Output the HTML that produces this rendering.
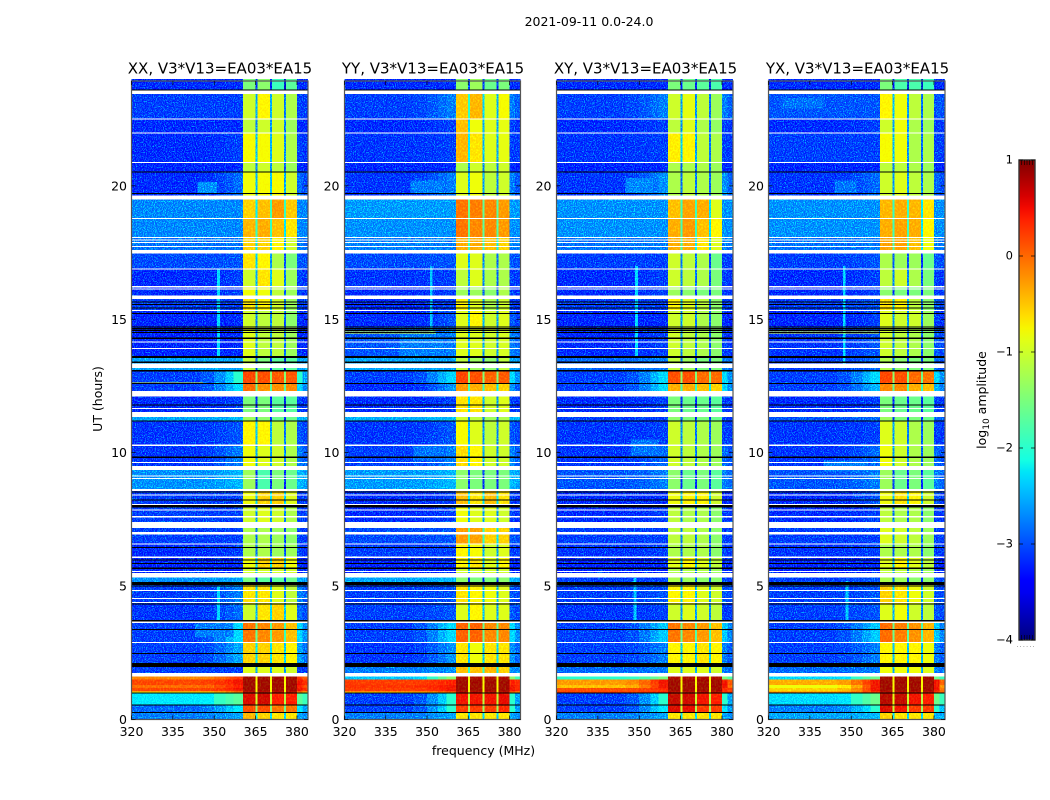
<!DOCTYPE html>
<html>
<head>
<meta charset="utf-8">
<title>2021-09-11 amplitude waterfall</title>
<style>
html,body{margin:0;padding:0;background:#fff;}
svg{display:block;}
text{font-family:"DejaVu Sans","Liberation Sans",sans-serif;fill:#000;}
</style>
</head>
<body>
<svg id="chart" xmlns="http://www.w3.org/2000/svg" width="1050" height="800" viewBox="0 0 1050 800">
  <defs>
    <filter id="speckle" x="0" y="0" width="100%" height="100%" color-interpolation-filters="sRGB">
      <feTurbulence type="fractalNoise" baseFrequency="0.9 0.8" numOctaves="2" seed="4" result="n"/>
      <feColorMatrix in="n" type="matrix" values="0 0 0 0 0  2.2 0 0 0 -1  0 0 0 0 0  0 0 0 0 1" result="g"/>
      <feComposite in="SourceGraphic" in2="g" operator="arithmetic" k1="0" k2="1" k3="1" k4="0" result="mix"/>
      <feComposite in="mix" in2="SourceGraphic" operator="in"/>
    </filter>
    <filter id="speckle-soft" x="0" y="0" width="100%" height="100%" color-interpolation-filters="sRGB">
      <feTurbulence type="fractalNoise" baseFrequency="0.6 0.5" numOctaves="2" seed="9" result="n"/>
      <feColorMatrix in="n" type="matrix" values="0 0 0 0 0  .5 0 0 0 -.2  0 0 0 0 0  0 0 0 0 1" result="g"/>
      <feComposite in="SourceGraphic" in2="g" operator="arithmetic" k1="0" k2="1" k3="1" k4="0" result="mix"/>
      <feComposite in="mix" in2="SourceGraphic" operator="in"/>
    </filter>
    <linearGradient id="jet-gradient" x1="0" y1="1" x2="0" y2="0"></linearGradient>
  </defs>
  <text x="589" y="26" font-size="12.5" text-anchor="middle">2021-09-11 0.0-24.0</text>
  <text x="483.5" y="755" font-size="12.5" text-anchor="middle">frequency (MHz)</text>
  <text x="0" y="0" font-size="12.5" text-anchor="middle" transform="translate(102,399) rotate(-90)">UT (hours)</text>
  <text x="0" y="0" font-size="12.5" text-anchor="middle" transform="translate(986,400) rotate(-90)">log<tspan font-size="9" dy="3">10</tspan><tspan dy="-3"> amplitude</tspan></text>
  <g id="panels"></g>
  <g id="colorbar"></g>
</svg>
<script>
// ---- Data ----
const xTicks = [320, 335, 350, 365, 380];
const yTicks = [0, 5, 10, 15, 20];
const cbTicks = [-4, -3, -2, -1, 0, 1];

// band boundaries in UT hours, top to bottom
const bandEdges = [24,23.5,22.5,21.98,20.88,20.52,19.6,18.78,18.06,17.5,16.88,16.2,15.85,15.33,14.7,13.59,13.07,12.6,12.2,11.45,11.18,10.28,9.45,8.58,8.0,7.3,6.57,6.08,5.67,5.4,5.1,4.33,3.65,2.88,2.05,1.65,1.5,1.3,1.18,1.05,0.98,0.55,0.27,0];

// each band: [background, near-window, window1, window2, window3, window4] in log10 amplitude
const xxBands = [
[-3.1,-3.1,-1.5,-1.4,-1.9,-1.7],[-3.0,-3.0,-1.0,-.7,-1.0,-1.2],[-3.1,-3.1,-1.1,-1.0,-1.0,-1.3],[-3.1,-3.0,-.75,-.75,-.9,-1.2],
[-3.2,-3.1,-1.1,-1.0,-1.1,-1.3],[-3.1,-2.8,-.8,-.75,-.75,-1.0],[-2.65,-2.65,-.5,-.4,-.2,-.45],[-2.65,-2.65,-.35,-.3,-.4,-.6],
[-2.75,-2.75,-.5,-.5,-.7,-1.0],[-2.95,-2.9,-.6,-.7,-1.2,-1.5],[-3.1,-3.0,-1,-.6,-.9,-1.3],[-3.1,-3.0,-.8,-.8,-1.1,-1.3],
[-3.0,-3.0,-.6,-.7,-1.0,-1.3],[-3.2,-3.1,-1,-1.1,-1.1,-1.4],[-3.2,-3.1,-.9,-1.1,-1.1,-1.3],[-2.5,-2.5,-1.1,-1.5,-1.7,-1.7],
[-3,-2,.25,.2,.15,.15],[-3,-2.2,.05,-.15,-.15,-.1],[-3.1,-3,-1.5,-1.5,-1.7,-1.7],[-2.5,-2.4,-1.3,-1.4,-1.6,-1.6],
[-3.05,-2.9,-.7,-.7,-1.1,-1.2],[-3.05,-2.7,-.8,-.9,-1,-1.2],[-2.6,-2.4,-1.3,-1.8,-1.5,-1.6],[-3,-3,-.8,-.5,-.5,-.9],
[-3,-3,-1,-.9,-1,-1.2],[-3,-3,-1.2,-1.2,-1.3,-1.4],[-3.1,-3,-1.2,-1.2,-1.3,-1.3],[-3.2,-3.1,-.8,-.5,-.5,-.8],
[-3.2,-3.1,-1,-1,-1,-1],[-2.6,-2.5,-1.5,-1.7,-1.7,-1.6],[-3,-2.7,-.6,-.6,-.9,-1.1],[-3.05,-2.8,-1,-.6,-.5,-.9],
[-3,-2.2,0,-.1,-.2,-.4],[-3,-2.5,-.5,-.5,-.6,-.7],[-3,-3,-.9,-.9,-.9,-1],
[-.1,.3,.85,.85,.85,.85],[.25,.5,.85,.85,.85,.85],[.05,.45,.85,.85,.85,.85],[.25,.5,.85,.85,.85,.85],[-.8,-.2,.7,.7,.7,.7],
[-2.1,-1.7,.6,.65,.45,.45],[-2.8,-2.1,.2,.2,0,0],[-2.7,-2.5,-.35,-.5,-.6,-.6]
];
const yyBands = [
[-3.1,-3.1,-1.4,-1.3,-1.6,-1.5],[-3.0,-2.7,-.45,-.35,-.9,-.75],[-3.1,-3.0,-.4,-.8,-.9,-.85],[-3.05,-3.0,-.35,-.6,-.9,-.85],
[-3.2,-3.1,-1.2,-1.0,-1.1,-1.0],[-3.05,-2.7,-.9,-.8,-1.1,-1.0],[-2.55,-2.55,0,-.05,-.1,-.2],[-2.6,-2.6,0,-.1,-.1,-.2],
[-2.7,-2.7,-.3,-.3,-.4,-.5],[-2.95,-2.9,-.9,-.9,-1.2,-1.2],[-3.05,-3.0,-1.1,-.9,-1.2,-1.2],[-3.1,-3.0,-1.3,-1.3,-1.4,-1.2],
[-3.1,-3.0,-.7,-.9,-1.2,-1.0],[-3.1,-2.9,-.9,-.7,-1.0,-.9],[-2.9,-2.7,-.9,-.9,-1.0,-.95],[-2.5,-2.5,-1.1,-1.3,-1.4,-1.1],
[-3,-2.2,.25,.2,.1,.15],[-3.1,-2.6,-.2,-.3,-.4,-.5],[-3.1,-3,-.6,-.6,-1,-.9],[-2.45,-2.4,-1,-1.1,-1.3,-1.2],
[-3.05,-2.9,-.75,-.9,-1.1,-1.0],[-3,-2.7,-.55,-.7,-1,-1],[-2.55,-2.4,-1.4,-1.5,-1.5,-1.5],[-3.1,-3,-.4,-.6,-.4,-.6],
[-3.1,-3,-.8,-.9,-.9,-1],[-2.95,-2.9,-.2,-.25,-.5,-.5],[-3,-3,-.7,-.75,-1,-.9],[-3.2,-3.1,-.7,-.6,-.9,-.7],
[-3.2,-3.1,-1,-1,-1,-1],[-2.5,-2.4,-1.4,-1.5,-1.5,-1.4],[-3,-2.9,-.6,-.7,-.8,-.9],[-3,-2.9,-.9,-.7,-.9,-.9],
[-3,-2.2,.1,.1,-.1,-.1],[-3.05,-2.6,-.6,-.8,-.6,-.6],[-2.7,-2.6,-.4,-.4,-.35,-.5],
[-2.3,-1.4,.8,.8,.8,.8],[.3,.45,.85,.85,.85,.85],[.35,.5,.85,.85,.85,.85],[.3,.5,.85,.85,.85,.85],[-.5,0,.7,.7,.7,.7],
[-3,-2,.5,.5,.5,.55],[-3,-2,.3,.3,.3,.4],[-2.7,-2.5,-.6,-.6,-.6,-.6]
];
const xyBands = [
[-3.1,-3.1,-1.5,-1.6,-1.7,-1.8],[-3,-2.7,-1,-.85,-1.1,-1.3],[-3.1,-3,-1.1,-.9,-1.2,-1.35],[-3.05,-3,-.65,-.7,-1.1,-1.2],
[-3.2,-3.1,-1.2,-1.2,-1.2,-1.3],[-3.05,-2.6,-1.2,-1.1,-1.2,-1.3],[-2.6,-2.6,-.4,-.25,-.3,-.9],[-2.6,-2.6,-.3,-.2,-.4,-.7],
[-2.75,-2.7,-.3,-.3,-.6,-.9],[-3,-3,-1,-1.1,-1.2,-1.6],[-3.1,-3,-1,-1.1,-1.2,-1.5],[-3.1,-3,-1.3,-1.4,-1.5,-1.5],
[-3,-3,-.7,-.9,-1.1,-1.4],[-3.15,-3.1,-1,-1,-1.2,-1.4],[-3.1,-3,-1,-1.1,-1.2,-1.4],[-2.8,-2.7,-1.1,-1.3,-1.5,-1.5],
[-3,-2.2,.2,.2,.05,.05],[-3,-2.2,-.3,-.3,-.4,-.5],[-3.1,-3,-1.5,-1.6,-1.6,-1.7],[-3,-3,-1.4,-1.5,-1.5,-1.6],
[-3.05,-3,-1,-1.1,-1.2,-1.3],[-3.05,-2.8,-1,-1.1,-1.2,-1.3],[-2.9,-2.7,-1.4,-1.6,-1.5,-1.7],[-3.1,-3.1,-.8,-.7,-.7,-1],
[-3.1,-3,-1.1,-1.2,-1.2,-1.4],[-3,-3,-1.1,-1.1,-1.2,-1.4],[-3.05,-3,-1.2,-1.2,-1.2,-1.4],[-3.2,-3.1,-.9,-.7,-.9,-1.1],
[-3.2,-3.1,-1.2,-1.2,-1.2,-1.3],[-3,-3,-1.2,-1.3,-1.4,-1.4],[-3,-2.9,-.7,-.7,-.9,-1],[-3.05,-3,-1,-.9,-1,-1.1],
[-3,-2.3,0,-.1,-.2,-.4],[-3,-2.7,-.7,-.7,-.6,-.7],[-2.8,-2.7,-.9,-.9,-.9,-1],
[-2,-1.5,.8,.8,.8,.8],[-.2,.5,.85,.85,.85,.85],[-.4,.5,.85,.85,.85,.85],[.2,.4,.85,.85,.85,.85],[.3,.4,.7,.7,.7,.7],
[-3,-2,.7,.65,.5,.45],[-3,-2.1,.6,.55,.3,.3],[-2.7,-2.5,-.6,-.6,-.6,-.6]
];
const yxBands = [
[-3.1,-3.1,-1.5,-1.8,-1.8,-1.9],[-2.9,-2.9,-.7,-.8,-1.1,-1.2],[-3.1,-3,-1,-.8,-1.2,-1.3],[-3,-3,-.75,-.8,-1.2,-1.2],
[-3.2,-3.1,-1.1,-1.1,-1.2,-1.3],[-3.05,-2.8,-1,-.9,-1.1,-1.2],[-2.6,-2.6,-.35,-.3,-.35,-.6],[-2.6,-2.6,-.3,-.25,-.3,-.7],
[-2.75,-2.7,-.25,-.25,-.4,-.8],[-3,-2.9,-1.2,-1.3,-1.3,-1.6],[-3.1,-3,-1.1,-1,-1.2,-1.5],[-3.1,-3,-1.4,-1.5,-1.5,-1.5],
[-3,-2.9,-.6,-.7,-1.1,-1.4],[-3.15,-3,-.9,-1,-1,-1.3],[-3.05,-2.9,-1,-1.1,-1.2,-1.4],[-3,-2.8,-1.2,-1.4,-1.5,-1.5],
[-3,-2.2,.25,.2,.05,0],[-3,-2.4,-.1,-.1,-.3,-.4],[-3.1,-3,-1.5,-1.6,-1.6,-1.7],[-2.9,-2.8,-1.3,-1.5,-1.5,-1.6],
[-3.05,-3,-.9,-1,-1.2,-1.3],[-3.05,-2.8,-.8,-1,-1.2,-1.3],[-2.9,-2.7,-1.3,-1.6,-1.5,-1.7],[-3.1,-2.9,-.8,-.6,-.7,-1],
[-3.1,-3,-1.1,-1.2,-1.2,-1.4],[-3,-3,-.9,-1,-1.1,-1.3],[-3.05,-3,-1.2,-1.2,-1.2,-1.4],[-3.2,-3.1,-.9,-.7,-.9,-1.1],
[-3.2,-3.1,-1.1,-1.1,-1.2,-1.3],[-3,-2.9,-1.2,-1.3,-1.4,-1.4],[-3,-2.9,-.5,-.6,-.8,-1],[-3,-2.9,-.9,-.8,-1,-1.1],
[-3,-2.3,.05,-.05,-.15,-.35],[-3,-2.7,-.7,-.7,-.7,-.8],[-2.8,-2.7,-.8,-.8,-.8,-.9],
[-2.2,-1.6,.85,.85,.85,.85],[-.3,.5,.85,.85,.85,.85],[-.8,.5,.85,.85,.85,.85],[-.5,.5,.85,.85,.85,.85],[-.1,.3,.7,.7,.7,.7],
[-2.2,-1.6,.75,.7,.5,.45],[-2.7,-2.0,.6,.5,.3,.3],[-2.5,-2.4,-.5,-.6,-.6,-.6]
];

// localized features: [freqStart, freqEnd, hourStart, hourEnd, value]
const xxFeatures = [[344,351,19.72,20.15,-2.6],[351,352,13.6,16.9,-2.2],[351,352,3.6,5,-2.2],[320,346,12.58,12.63,-.9],[343,357,3.1,3.6,-2.7]];
const yyFeatures = [[344,356,19.7,20.2,-2.7],[351,352,14.4,17,-2.3],[320,353,14.47,14.55,-.8],[340,356,13.6,14.5,-2.7],[345,355,9.7,10.3,-2.75]];
const xyFeatures = [[345,355,19.7,20.3,-2.65],[347,357,9.9,10.5,-2.75],[348.5,349.5,13.6,17,-2.2],[348,349,3.6,5.3,-2.3]];
const yxFeatures = [[320,360,14.47,14.55,-.8],[347,348,13.3,17,-2.2],[344,352,19.7,20.2,-2.75],[340,356,9.3,9.7,-2.7],[325,340,22.9,23.3,-2.75],[348,349,3.6,5.2,-2.3]];

// flagged (white) intervals in UT hours: [top, bottom]
const whiteFlags = [[23.57,23.44],[22.52,22.48],[22,21.96],[20.9,20.86],[19.63,19.48],[18.8,18.76],[18.08,18.04],[17.99,17.95],[17.89,17.85],[17.75,17.7],[17.6,17.47],[16.9,16.86],[16.24,16.2],[16.15,16.11],[15.9,15.76],[15.35,15.31],[14.17,14.13],[13.93,13.89],[13.34,13.17],[12.31,12.1],[11.68,11.64],[11.53,11.34],[10.3,10.26],[9.65,9.61],[9.5,9.35],[9.15,9.11],[9.06,9.02],[8.63,8.57],[8.43,8.39],[8.07,8.03],[7.87,7.83],[7.62,7.58],[7.41,7.17],[7.02,6.94],[6.59,6.55],[6.1,6.06],[5.56,5.52],[5.49,5.33],[4.86,4.82],[4.55,4.51],[4.4,4.36],[3.68,3.62],[2.9,2.86],[1.75,1.62]];

// black lines: [hour, thickness in hours]
const blackLines = [[23.6,.04],[20.52,.04],[19.71,.04],[15.65,.04],[15.56,.04],[15.42,.04],[15.22,.04],[14.71,.04],[14.66,.04],[14.59,.04],[14.5,.04],[14.29,.04],[13.59,.07],[13.39,.04],[13.07,.04],[12.6,.04],[11.78,.04],[11.18,.04],[9.83,.04],[8.52,.04],[8.23,.04],[8.01,.04],[7.97,.04],[6.45,.04],[5.98,.04],[5.85,.04],[5.67,.07],[5.1,.11],[5,.04],[4.33,.04],[3.7,.04],[3.38,.04],[2.47,.04],[2.05,.15],[1.0,.04],[.55,.04],[.27,.04]];

// ---- Layout and scales ----
const plotTop = 81, plotBottom = 719.5, hourMax = 23.93, freqMin = 320, freqMax = 384;
const cbLeft = 1019, cbRight = 1035, cbTop = 160, cbBottom = 640;
const speckleBias = 0.25;
const SVGNS = 'http://www.w3.org/2000/svg';
const panelsRoot = document.getElementById('panels');
const colorbarRoot = document.getElementById('colorbar');

function jet(v) {
  const n = Math.min(1, Math.max(0, (v + 4) / 5));
  const lerp = (pts) => {
    for (let i = 1; i < pts.length; i++) {
      if (n <= pts[i][0]) {
        const a = pts[i - 1], b = pts[i];
        return a[1] + (b[1] - a[1]) * (n - a[0]) / (b[0] - a[0]);
      }
    }
    return pts[pts.length - 1][1];
  };
  const r = lerp([[0,0],[.35,0],[.66,1],[.89,1],[1,.5]]);
  const g = lerp([[0,0],[.125,0],[.375,1],[.64,1],[.91,0],[1,0]]);
  const b = lerp([[0,.5],[.11,1],[.34,1],[.65,0],[1,0]]);
  return 'rgb(' + Math.round(r * 255) + ',' + Math.round(g * 255) + ',' + Math.round(b * 255) + ')';
}
function yOf(hour) { return plotBottom - (plotBottom - plotTop) * hour / hourMax; }
function makeRect(parent, x, y, w, h, fill) {
  const el = document.createElementNS(SVGNS, 'rect');
  el.setAttribute('x', x.toFixed(2));
  el.setAttribute('y', y.toFixed(2));
  el.setAttribute('width', Math.max(0, w).toFixed(2));
  el.setAttribute('height', Math.max(0, h).toFixed(2));
  el.setAttribute('fill', fill);
  el.setAttribute('shape-rendering', 'crispEdges');
  parent.appendChild(el);
  return el;
}
function makeLine(parent, x1, y1, x2, y2, color, width) {
  const el = document.createElementNS(SVGNS, 'line');
  el.setAttribute('x1', x1);
  el.setAttribute('y1', y1);
  el.setAttribute('x2', x2);
  el.setAttribute('y2', y2);
  el.setAttribute('stroke', color);
  el.setAttribute('stroke-width', width);
  parent.appendChild(el);
  return el;
}
function makeText(parent, x, y, str, size, anchor) {
  const el = document.createElementNS(SVGNS, 'text');
  el.setAttribute('x', x);
  el.setAttribute('y', y);
  el.setAttribute('font-size', size);
  el.setAttribute('text-anchor', anchor);
  el.textContent = str;
  parent.appendChild(el);
  return el;
}
function makeGroup(parent, filter) {
  const el = document.createElementNS(SVGNS, 'g');
  if (filter) el.setAttribute('filter', 'url(#' + filter + ')');
  parent.appendChild(el);
  return el;
}

function drawPanel(title, left, right, titleX, bands, features, labelX) {
  const xOf = (f) => left + (right - left) * (f - freqMin) / (freqMax - freqMin);
  const panel = makeGroup(panelsRoot);
  
  

  const heatNoisy = makeGroup(panel, 'speckle');
  
  
  const heatSmooth = makeGroup(panel, 'speckle-soft');
  
  

  bands.forEach((band, i) => {
    const bg = band[0], rise = band[1], w1 = band[2], w2 = band[3], w3 = band[4], w4 = band[5];
    const ramp = (k) => bg + (rise - bg) * k;
    const segments = [
      [320, 345, bg], [345, 350, ramp(.12)], [350, 354, ramp(.4)], [354, 357, ramp(.72)], [357, 360.5, rise],
      [360.5, 364.9, w1], [364.9, 365.6, (w1 + w2) / 2 - 1.6],
      [365.6, 370.2, w2], [370.2, 370.9, (w2 + w3) / 2 - 1.6],
      [370.9, 375.3, w3], [375.3, 376, (w3 + w4) / 2 - 1.6],
      [376, 380, w4], [380, 382, rise], [382, 384, ramp(.5)]
    ];
    const yTop = yOf(bandEdges[i]);
    const yBot = yOf(bandEdges[i + 1]);
    segments.forEach((s) => {
      const noisy = s[2] < -2;
      const target = noisy ? heatNoisy : heatSmooth;
      const cell = makeRect(target, xOf(s[0]), yTop, xOf(s[1]) - xOf(s[0]), yBot - yTop, jet(noisy ? s[2] - speckleBias : s[2]));
      
      
    });
  });

  features.forEach((f) => {
    const noisy = f[4] < -2;
    const target = noisy ? heatNoisy : heatSmooth;
    const mark = makeRect(target, xOf(f[0]), yOf(f[3]), xOf(f[1]) - xOf(f[0]), yOf(f[2]) - yOf(f[3]), jet(noisy ? f[4] - speckleBias : f[4]));
    
    
  });

  whiteFlags.forEach((f) => {
    const flag = makeRect(panel, left, yOf(f[0]), right - left, yOf(f[1]) - yOf(f[0]), '#ffffff');
    
    
  });
  blackLines.forEach((b) => {
    const bar = makeRect(panel, left, yOf(b[0] + b[1] / 2), right - left, yOf(b[0] - b[1] / 2) - yOf(b[0] + b[1] / 2), '#000000');
    
    
  });

  const frame = document.createElementNS(SVGNS, 'rect');
  frame.setAttribute('x', left);
  frame.setAttribute('y', plotTop);
  frame.setAttribute('width', right - left);
  frame.setAttribute('height', plotBottom - plotTop);
  frame.setAttribute('fill', 'none');
  frame.setAttribute('stroke', '#555');
  frame.setAttribute('stroke-width', '1.2');
  
  
  panel.appendChild(frame);

  const ttl = makeText(panel, titleX, 73.5, title, 15, 'middle');
  
  

  xTicks.forEach((t) => {
    const x = xOf(t);
    const tickB = makeLine(panel, x, plotBottom, x, plotBottom - 4, '#000', .7);
    
    
    const tickT = makeLine(panel, x, plotTop, x, plotTop + 4, '#000', .7);
    
    
    const lab = makeText(panel, x, 736, String(t), 12.5, 'middle');
    
    
  });
  yTicks.forEach((t) => {
    const y = yOf(t);
    const tickL = makeLine(panel, left, y, left + 4, y, '#000', .7);
    
    
    const tickR = makeLine(panel, right, y, right - 4, y, '#000', .7);
    
    
    const lab = makeText(panel, labelX, y + 4.5, String(t), 12.5, 'end');
    
    
  });
}

drawPanel('XX, V3*V13=EA03*EA15', 131.5, 308, 220, xxBands, xxFeatures, 127);
drawPanel('YY, V3*V13=EA03*EA15', 344.5, 520.5, 433, yyBands, yyFeatures, 339.5);
drawPanel('XY, V3*V13=EA03*EA15', 556.5, 733, 645.5, xyBands, xyFeatures, 551.5);
drawPanel('YX, V3*V13=EA03*EA15', 768.5, 945, 857.5, yxBands, yxFeatures, 764);

// ---- Colorbar ----
const gradient = document.getElementById('jet-gradient');
for (let k = 0; k <= 40; k++) {
  const stop = document.createElementNS(SVGNS, 'stop');
  stop.setAttribute('offset', (k / 40));
  stop.setAttribute('stop-color', jet(-4 + 5 * k / 40));
  gradient.appendChild(stop);
}
const cbY = (v) => cbBottom - (cbBottom - cbTop) * (v + 4) / 5;
const cbBar = document.createElementNS(SVGNS, 'rect');
cbBar.setAttribute('x', cbLeft);
cbBar.setAttribute('y', cbTop);
cbBar.setAttribute('width', cbRight - cbLeft);
cbBar.setAttribute('height', cbBottom - cbTop);
cbBar.setAttribute('fill', 'url(#jet-gradient)');
cbBar.setAttribute('stroke', '#333');
cbBar.setAttribute('stroke-width', '1.4');


colorbarRoot.appendChild(cbBar);

cbTicks.forEach((v) => {
  const y = cbY(v);
  const tickL = makeLine(colorbarRoot, cbLeft, y, cbLeft + 4, y, '#000', .7);
  
  
  const tickR = makeLine(colorbarRoot, cbRight, y, cbRight - 4, y, '#000', .7);
  
  
  const lab = makeText(colorbarRoot, 1013, y + 3.5, (v < 0 ? '\u2212' + Math.abs(v) : String(v)), 11.5, 'end');
  
  
});
const combXs = [1, 2, 3, 4, 5];
[-4, 1].forEach((end) => {
  const dir = end === 1 ? 1 : -1;
  combXs.forEach((c) => {
    const x = cbLeft + c * (cbRight - cbLeft) / 6;
    const comb = makeLine(colorbarRoot, x, cbY(end), x, cbY(end) + dir * 5, '#000', .6);
    
    
  });
});
const cbDots = makeText(colorbarRoot, 1026, 647, '......', 7, 'middle');
cbDots.setAttribute('style', 'fill:#888;letter-spacing:1px');


</script>
</body>
</html>
